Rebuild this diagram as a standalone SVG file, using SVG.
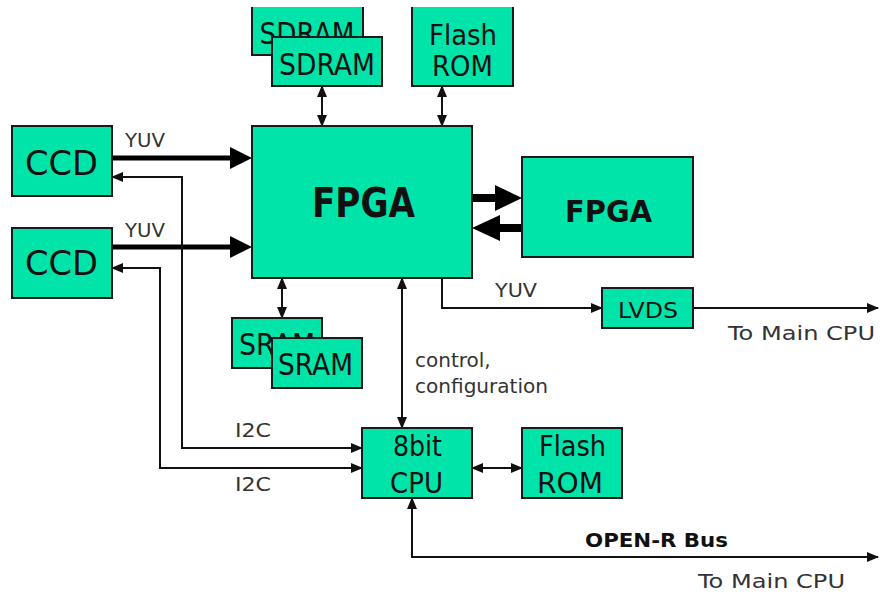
<svg xmlns="http://www.w3.org/2000/svg" width="882" height="596" viewBox="0 0 882 596">
<defs>
<style>
.box{fill:#00E4AA;stroke:#1a1a1a;stroke-width:2}
.fill{fill:#00E4AA;stroke:none}
.edge{fill:none;stroke:#1a1a1a;stroke-width:2}
.bt{font-family:"DejaVu Sans","Liberation Sans",sans-serif;fill:#111;text-anchor:middle}
.b{font-weight:bold}
.lbl{font-family:"DejaVu Sans","Liberation Sans",sans-serif;fill:#333;font-size:20px}
.ln{fill:none;stroke:#111;stroke-width:2}
.thick{stroke:#000;fill:none}
.head{fill:#000}
</style>
<marker id="ah" markerUnits="userSpaceOnUse" markerWidth="12" markerHeight="10" refX="11" refY="5" orient="auto-start-reverse" viewBox="0 0 12 10">
<path d="M0,0 L12,5 L0,10 z" fill="#111"/>
</marker>
</defs>

<g id="connectors">
<line class="thick" x1="112" y1="158" x2="232" y2="158" stroke-width="5"/>
<polygon class="head" points="230,147 252,158 230,169"/>
<line class="thick" x1="112" y1="247" x2="232" y2="247" stroke-width="5"/>
<polygon class="head" points="230,236 252,247 230,258"/>
<line class="thick" x1="472" y1="198" x2="497" y2="198" stroke-width="8"/>
<polygon class="head" points="495,185 522,198 495,211"/>
<line class="thick" x1="522" y1="228" x2="498" y2="228" stroke-width="8"/>
<polygon class="head" points="500,215 472,228 500,241"/>
<line class="ln" x1="322" y1="86" x2="322" y2="126" marker-start="url(#ah)" marker-end="url(#ah)"/>
<line class="ln" x1="442" y1="86" x2="442" y2="126" marker-start="url(#ah)" marker-end="url(#ah)"/>
<line class="ln" x1="282" y1="278" x2="282" y2="318" marker-start="url(#ah)" marker-end="url(#ah)"/>
<line class="ln" x1="402" y1="278" x2="402" y2="428" marker-start="url(#ah)" marker-end="url(#ah)"/>
<path class="ln" d="M442,278 V308 H602" marker-end="url(#ah)"/>
<path class="ln" d="M693,308 H878" marker-end="url(#ah)"/>
<path class="ln" d="M362,448 H182 V177 H112" marker-start="url(#ah)" marker-end="url(#ah)"/>
<path class="ln" d="M362,468 H160 V268 H112" marker-start="url(#ah)" marker-end="url(#ah)"/>
<line class="ln" x1="472" y1="468" x2="522" y2="468" marker-start="url(#ah)" marker-end="url(#ah)"/>
<path class="ln" d="M412,498 V557 H878" marker-start="url(#ah)" marker-end="url(#ah)"/>
</g>

<g id="sdram-back">
<rect class="fill" x="252" y="7" width="111" height="48"/>
<path class="edge" d="M252,7 V55 H363 V7"/>
<text class="bt" x="307" y="44" font-size="30" textLength="95" lengthAdjust="spacingAndGlyphs">SDRAM</text>
</g>
<g id="sdram-front">
<rect class="box" x="272" y="37" width="110" height="49"/>
<text class="bt" x="327" y="75" font-size="30" textLength="96" lengthAdjust="spacingAndGlyphs">SDRAM</text>
</g>
<g id="flash-rom-top">
<rect class="fill" x="412" y="7" width="101" height="79"/>
<path class="edge" d="M412,7 V86 H513 V7"/>
<text class="bt" x="463" y="45" font-size="28" textLength="68" lengthAdjust="spacingAndGlyphs">Flash</text>
<text class="bt" x="462.5" y="76" font-size="28" textLength="61" lengthAdjust="spacingAndGlyphs">ROM</text>
</g>
<g id="ccd1">
<rect class="box" x="12" y="126" width="100" height="70"/>
<text class="bt" x="61.5" y="175" font-size="34" textLength="73" lengthAdjust="spacingAndGlyphs">CCD</text>
</g>
<g id="ccd2">
<rect class="box" x="12" y="228" width="100" height="70"/>
<text class="bt" x="61.5" y="275" font-size="34" textLength="73" lengthAdjust="spacingAndGlyphs">CCD</text>
</g>
<g id="fpga-main">
<rect class="box" x="252" y="126" width="220" height="152"/>
<text class="bt b" x="363.5" y="217" font-size="40" textLength="103" lengthAdjust="spacingAndGlyphs">FPGA</text>
</g>
<g id="fpga2">
<rect class="box" x="522" y="157" width="171" height="100"/>
<text class="bt b" x="608.5" y="222" font-size="30" textLength="87" lengthAdjust="spacingAndGlyphs">FPGA</text>
</g>
<g id="sram-back">
<rect class="box" x="232" y="318" width="90" height="50"/>
<text class="bt" x="277" y="355" font-size="30" textLength="76" lengthAdjust="spacingAndGlyphs">SRAM</text>
</g>
<g id="sram-front">
<rect class="box" x="272" y="338" width="90" height="50"/>
<text class="bt" x="315.5" y="375" font-size="30" textLength="75" lengthAdjust="spacingAndGlyphs">SRAM</text>
</g>
<g id="lvds">
<rect class="box" x="602" y="288" width="91" height="40"/>
<text class="bt" x="648" y="318" font-size="21" textLength="60" lengthAdjust="spacingAndGlyphs">LVDS</text>
</g>
<g id="cpu">
<rect class="box" x="362" y="428" width="110" height="70"/>
<text class="bt" x="417.5" y="456" font-size="28" textLength="49" lengthAdjust="spacingAndGlyphs">8bit</text>
<text class="bt" x="416.5" y="493" font-size="28" textLength="53" lengthAdjust="spacingAndGlyphs">CPU</text>
</g>
<g id="flash-rom-bottom">
<rect class="box" x="522" y="428" width="100" height="70"/>
<text class="bt" x="572.5" y="456" font-size="28" textLength="67" lengthAdjust="spacingAndGlyphs">Flash</text>
<text class="bt" x="570" y="493" font-size="28" textLength="66" lengthAdjust="spacingAndGlyphs">ROM</text>
</g>

<g id="labels">
<text class="lbl" x="125" y="147" textLength="40" lengthAdjust="spacingAndGlyphs">YUV</text>
<text class="lbl" x="125" y="237" textLength="40" lengthAdjust="spacingAndGlyphs">YUV</text>
<text class="lbl" x="495" y="297" textLength="42" lengthAdjust="spacingAndGlyphs">YUV</text>
<text class="lbl" x="728" y="340" font-size="22" textLength="147" lengthAdjust="spacingAndGlyphs">To Main CPU</text>
<text class="lbl" x="415" y="367">control,</text>
<text class="lbl" x="415" y="393" textLength="133" lengthAdjust="spacingAndGlyphs">configuration</text>
<text class="lbl" x="235" y="437" textLength="36" lengthAdjust="spacingAndGlyphs">I2C</text>
<text class="lbl" x="235" y="491" textLength="36" lengthAdjust="spacingAndGlyphs">I2C</text>
<text class="lbl b" x="585" y="547" style="fill:#111" textLength="143" lengthAdjust="spacingAndGlyphs">OPEN-R Bus</text>
<text class="lbl" x="698" y="588" font-size="22" textLength="147" lengthAdjust="spacingAndGlyphs">To Main CPU</text>
</g>
</svg>
